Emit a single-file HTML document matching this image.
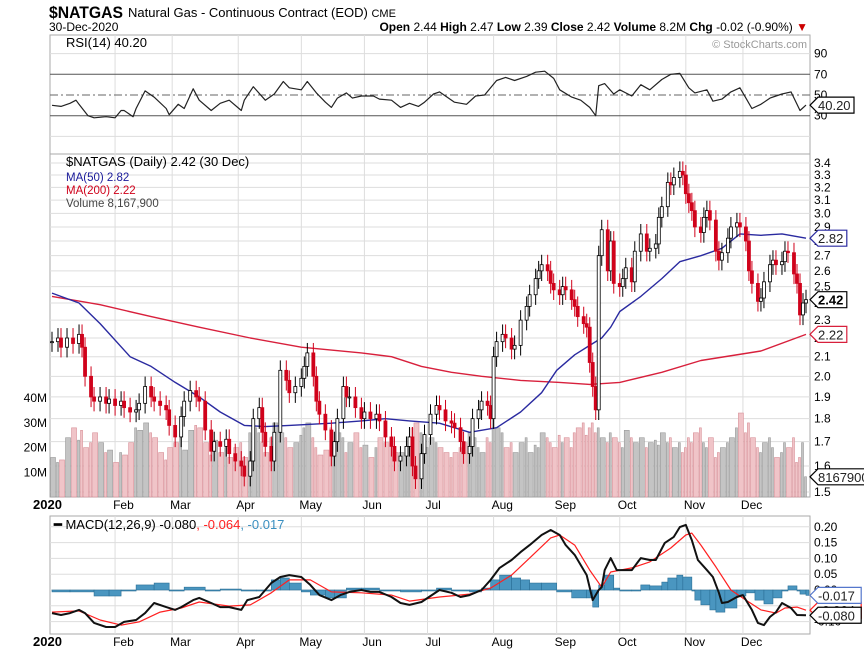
<!DOCTYPE html>
<html><head><meta charset="utf-8"><style>
html,body{margin:0;padding:0;background:#fff;}
svg{display:block;font-family:"Liberation Sans",Arial,sans-serif;}
</style></head><body>
<svg id="chart" width="864" height="654" viewBox="0 0 864 654" xmlns="http://www.w3.org/2000/svg">
<g>
<text x="49" y="18" font-size="17" font-weight="bold" textLength="74" lengthAdjust="spacingAndGlyphs">$NATGAS</text>
<text x="128" y="17" font-size="13">Natural Gas - Continuous Contract (EOD) <tspan font-size="11">CME</tspan></text>
<text x="49" y="31" font-size="12">30-Dec-2020</text>
<text x="808" y="31" font-size="12" text-anchor="end"><tspan font-weight="bold">Open</tspan> 2.44 <tspan font-weight="bold">High</tspan> 2.47 <tspan font-weight="bold">Low</tspan> 2.39 <tspan font-weight="bold">Close</tspan> 2.42 <tspan font-weight="bold">Volume</tspan> 8.2M <tspan font-weight="bold">Chg</tspan> -0.02 (-0.90%) <tspan fill="#c00">▼</tspan></text>
</g>
<g id="grid"></g>
<g id="marks"></g>
<g id="labels"></g>
</svg>
<script>
// ---------- data ----------
const candleDays=[0,2,3,5,7,9,10,11,13,14,16,18,19,21,23,24,26,28,29,31,33,34,36,38,39,41,43,44,46,48,49,51,53,54,56,58,59,61,63,64,66,67,69,70,71,73,74,76,78,79,81,83,84,85,87,88,89,91,93,94,95,97,98,99,101,103,104,106,108,109,111,113,114,116,118,119,120,121,123,124,126,128,129,131,133,134,136,137,139,140,142,143,145,146,147,148,150,151,153,154,156,158,159,161,162,163,165,166,167,169,170,171,173,174,175,177,178,179,180,181,182,183,185,186,187,189,190,191,193,194,196,198,199,201,202,203,205,206,207,209,210,211,212,213,214,216,217,218,219,221,222,223,225,226,228,229,231,232,233,235,236,237,239,240,241,243,244,245,247,248,249,250,251];
const closes=[2.18,2.2,2.15,2.2,2.17,2.22,2.15,2.0,1.9,1.88,1.9,1.87,1.89,1.86,1.88,1.85,1.83,1.84,1.87,1.95,1.9,1.88,1.86,1.84,1.77,1.72,1.81,1.88,1.93,1.9,1.88,1.75,1.66,1.7,1.68,1.71,1.65,1.62,1.6,1.56,1.62,1.8,1.85,1.74,1.68,1.62,1.74,2.03,1.98,1.92,1.95,1.99,2.05,2.12,2.0,1.88,1.82,1.75,1.64,1.7,1.8,1.95,1.9,1.9,1.85,1.8,1.83,1.8,1.82,1.79,1.72,1.68,1.62,1.64,1.68,1.72,1.6,1.55,1.65,1.73,1.82,1.86,1.84,1.79,1.78,1.76,1.7,1.65,1.68,1.8,1.84,1.88,1.86,1.8,2.1,2.18,2.22,2.2,2.14,2.16,2.3,2.38,2.45,2.55,2.6,2.64,2.6,2.52,2.48,2.45,2.5,2.48,2.42,2.38,2.32,2.28,2.26,2.07,1.95,1.84,2.7,2.88,2.6,2.8,2.52,2.5,2.55,2.62,2.53,2.73,2.85,2.73,2.75,2.78,2.97,3.05,3.24,3.22,3.28,3.33,3.3,3.15,3.08,3.02,2.9,2.86,2.97,3.02,2.95,2.73,2.67,2.72,2.82,2.9,2.93,2.9,2.8,2.6,2.52,2.41,2.43,2.53,2.64,2.67,2.64,2.66,2.73,2.72,2.58,2.52,2.33,2.4,2.42];
const volumes=[16,14,15,24,28,23,27,20,22,26,22,18,19,14,18,17,22,28,27,30,26,24,18,15,20,22,24,19,27,29,28,22,17,23,18,20,16,20,22,16,26,28,26,22,18,24,30,26,24,20,22,25,28,30,24,20,17,19,28,22,26,24,18,22,26,20,21,16,20,24,22,24,18,18,16,22,28,30,26,20,24,22,20,18,16,18,20,22,26,24,20,18,24,22,34,28,26,20,22,18,22,24,18,21,20,26,24,22,20,25,22,24,20,26,28,30,25,28,30,26,28,24,22,26,24,22,20,27,24,22,24,20,22,23,21,26,22,24,20,22,18,20,24,22,26,28,22,20,24,16,18,20,22,24,28,34,26,30,24,20,18,22,24,20,16,18,22,20,24,14,16,22,8.2];
const ma50Days=[0,9,16,26,33,41,49,56,64,71,79,93,103,111,119,129,139,148,156,163,168,174,179,183,186,189,196,203,209,216,223,229,236,243,251];
const ma50=[2.46,2.40,2.28,2.10,2.05,1.97,1.90,1.83,1.77,1.765,1.77,1.78,1.79,1.80,1.79,1.78,1.74,1.76,1.83,1.92,2.03,2.11,2.16,2.20,2.26,2.35,2.44,2.55,2.66,2.70,2.75,2.85,2.84,2.85,2.82];
const ma200Days=[0,16,33,49,66,83,103,113,123,133,143,156,169,179,189,203,216,236,251];
const ma200=[2.44,2.39,2.32,2.26,2.20,2.15,2.12,2.10,2.05,2.02,2.00,1.98,1.97,1.96,1.97,2.02,2.08,2.13,2.22];
const rsiDays=[0,3,6,8,9,12,14,18,21,23,24,27,28,31,34,38,39,42,44,47,49,53,56,59,63,64,67,71,74,77,79,83,85,88,91,93,95,98,100,103,107,109,113,116,119,122,124,127,129,134,138,141,144,148,151,154,158,161,164,167,169,173,176,179,181,182,184,187,189,193,196,199,203,206,209,212,214,218,220,223,226,229,231,233,236,239,241,243,246,248,249,251];
const rsi=[40,39,42,45,41,30,28,29,28,35,35,29,37,54,48,37,31,41,37,56,45,35,42,45,35,45,58,45,51,63,57,55,63,52,43,38,47,52,47,49,49,46,45,38,42,39,43,51,53,43,41,49,50,64,67,64,68,72,73,66,55,48,45,38,30,59,61,51,55,49,60,55,65,70,71,57,52,55,44,46,53,57,47,37,41,47,49,51,53,41,35,40.2];
const macdDays=[0,3,6,9,11,14,18,21,24,28,31,34,38,41,43,47,49,53,56,59,63,65,69,73,76,79,83,86,89,93,96,99,103,106,109,113,116,119,123,126,129,133,136,139,143,146,149,153,156,159,163,166,169,171,174,178,180,182,183,184,186,188,191,193,196,199,201,204,207,209,211,213,215,218,220,222,223,225,228,230,233,235,237,239,241,243,246,248,251];
const macd=[-0.073,-0.079,-0.073,-0.063,-0.073,-0.104,-0.117,-0.117,-0.101,-0.095,-0.073,-0.041,-0.054,-0.063,-0.054,-0.032,-0.025,-0.041,-0.054,-0.054,-0.063,-0.032,-0.022,0.022,0.041,0.047,0.041,0.016,-0.016,-0.032,-0.016,-0.006,0,-0.006,-0.006,-0.022,-0.041,-0.047,-0.038,-0.019,0,-0.009,-0.022,-0.016,0,0.032,0.07,0.095,0.12,0.142,0.174,0.19,0.174,0.142,0.111,0.047,-0.032,0,0.009,0.063,0.101,0.063,0.063,0.063,0.101,0.095,0.095,0.149,0.168,0.199,0.206,0.158,0.095,0.063,0.041,-0.009,-0.041,-0.038,-0.022,-0.016,-0.063,-0.104,-0.111,-0.085,-0.07,-0.041,-0.057,-0.079,-0.080];
const signalDays=[0,9,16,23,29,36,43,49,59,66,73,79,86,93,103,113,119,129,139,146,153,159,166,169,174,179,183,186,193,199,206,211,213,216,221,226,231,236,241,244,248,251];
const signal=[-0.070,-0.066,-0.095,-0.111,-0.101,-0.070,-0.057,-0.038,-0.051,-0.047,-0.009,0.032,0.032,-0.006,-0.009,-0.016,-0.035,-0.022,-0.013,0.006,0.047,0.101,0.165,0.174,0.142,0.063,0.009,0.057,0.070,0.089,0.133,0.174,0.180,0.142,0.073,0,-0.032,-0.063,-0.073,-0.057,-0.054,-0.064];
const histDays=[0,6,14,19,23,28,34,39,44,51,56,63,68,73,76,79,83,86,91,94,98,103,109,116,123,128,133,139,143,146,149,153,156,159,163,168,173,178,180,182,184,187,189,193,196,199,203,205,208,210,213,214,216,219,221,224,228,231,234,237,240,243,245,248,249,251];
const hist=[-0.006,-0.006,-0.019,-0.019,0,0.016,0.022,0,0.009,-0.003,0.003,-0.003,0,0.032,0.038,0.022,-0.006,-0.016,-0.025,-0.025,0.006,0.006,0,-0.006,0,0.006,0,-0.006,0.006,0.032,0.047,0.038,0.032,0.022,0.022,-0.006,-0.025,-0.025,-0.054,0.016,0.047,0.006,-0.003,0,0.016,0.013,0.025,0.038,0.047,0.041,0,-0.032,-0.047,-0.063,-0.070,-0.057,-0.019,-0.009,-0.032,-0.044,-0.025,0,0.013,0,-0.013,-0.017];
const priceTicks=[3.4,3.3,3.2,3.1,3.0,2.9,2.8,2.7,2.6,2.5,2.4,2.3,2.2,2.1,2.0,1.9,1.8,1.7,1.6,1.5];
const volTicks=[10,20,30,40];
const rsiTicks=[90,70,50,30];
const macdTicks=[0.20,0.15,0.10,0.05,0.00,-0.05,-0.10];
const monthNames=["2020","Feb","Mar","Apr","May","Jun","Jul","Aug","Sep","Oct","Nov","Dec"];
const monthDays=[0,21,40,62,83,104,125,147,168,189,211,230];

// ---------- scales ----------
const X0=52,X1=806,PL=50,PR=810;
const xOf=d=>X0+d*(X1-X0)/251;
const yPrice=p=>163+(Math.log(3.4)-Math.log(p))*402;
const yVol=v=>497-v*2.47;
const yRsi=v=>95-(v-50)*1.035;
const yMacd=v=>590-v*316;
const NS="http://www.w3.org/2000/svg";
const grid=document.getElementById('grid'),marks=document.getElementById('marks'),labels=document.getElementById('labels');
function mk(tag,attrs,parent){const e=document.createElementNS(NS,tag);for(const k in attrs)e.setAttribute(k,attrs[k]);parent.appendChild(e);return e;}
function txt(x,y,s,attrs,parent){const t=mk('text',Object.assign({x:x,y:y,'font-size':12},attrs),parent);t.textContent=s;return t;}

const panels=[[35,154,'rsi-panel'],[154,497,'price-panel'],[516,634,'macd-panel']];
panels.forEach(p=>{
  const r=mk('rect',{x:PL,y:p[0],width:PR-PL,height:p[1]-p[0],fill:'#fff',stroke:'#aaa','stroke-width':1},grid);
  
  
});
monthDays.forEach((d,i)=>{
  if(i===0)return;
  [[35,154],[154,497],[516,634]].forEach(p=>{
    const l=mk('line',{x1:xOf(d),x2:xOf(d),y1:p[0],y2:p[1],stroke:'#ddd'},grid);
    
    
  });
});
priceTicks.forEach(p=>{
  const l=mk('line',{x1:PL,x2:PR,y1:yPrice(p),y2:yPrice(p),stroke:'#ddd'},grid);
  
  
  const t=txt(814,yPrice(p)+4,p.toFixed(1),{'font-size':12},labels);
  
  
});
volTicks.forEach(v=>{
  const t=txt(47,yVol(v)+4,v+'M',{'font-size':12,'text-anchor':'end'},labels);
  
  
});
[90,10].forEach(v=>{const l=mk('line',{x1:PL,x2:PR,y1:yRsi(v),y2:yRsi(v),stroke:'#ddd'},grid);
  
  });
[70,30].forEach(v=>{const l=mk('line',{x1:PL,x2:PR,y1:yRsi(v),y2:yRsi(v),stroke:'#555'},grid);
  
  });
{const l=mk('line',{x1:PL,x2:PR,y1:yRsi(50),y2:yRsi(50),stroke:'#666','stroke-dasharray':'8,3,2,3'},grid);
  
  }
rsiTicks.forEach(v=>{const t=txt(814,yRsi(v)+4,String(v),{},labels);
  
  });
macdTicks.forEach(v=>{
  const l=mk('line',{x1:PL,x2:PR,y1:yMacd(v),y2:yMacd(v),stroke:'#ddd'},grid);
  
  
  const t=txt(814,yMacd(v)+4,v.toFixed(2),{},labels);
  
  
});
monthNames.forEach((m,i)=>{
  [509,646].forEach(y=>{
    const t=txt(i===0?33:xOf(monthDays[i])-2,y,m,{'font-size':12,'font-weight':i===0?'bold':'normal'},labels);
    if(i===0)t.setAttribute('font-size','13');
    
    
  });
});

const bw=(X1-X0)/251;
volumes.forEach((v,i)=>{
  const down=i>0&&closes[i]<closes[i-1];
  const d=candleDays[i];const dn=i<candleDays.length-1?candleDays[i+1]:d+1;
  const w=Math.max(bw*(dn-d)-1,2);
  const r=mk('rect',{x:xOf(d)-bw/2,y:yVol(v),width:w,height:497-yVol(v),fill:down?'#f0c4c8':'#c4c4c4',stroke:down?'#d89098':'#999','stroke-width':0.6},marks);
  
  
});
function line(days,vals,yf,color,width,name){
  const pts=days.map((d,i)=>xOf(d).toFixed(1)+','+yf(vals[i]).toFixed(1)).join(' ');
  const pl=mk('polyline',{points:pts,fill:'none',stroke:color,'stroke-width':width,'stroke-linejoin':'round'},marks);
  
  
}
line(ma200Days,ma200,yPrice,'#d8203c',1.4,'ma200-line');
line(ma50Days,ma50,yPrice,'#2a2aa0',1.4,'ma50-line');
closes.forEach((c,i)=>{
  const o=i>0?closes[i-1]:c;
  const up=c>=o;
  const x=xOf(candleDays[i]);
  const hi=Math.max(o,c)*1.025,lo=Math.min(o,c)*0.975;
  const col=up?'#000':'#d0021b';
  const w=mk('line',{x1:x,x2:x,y1:yPrice(hi),y2:yPrice(lo),stroke:col,'stroke-width':1},marks);
  
  
  const yt=yPrice(Math.max(o,c)),yb=yPrice(Math.min(o,c));
  const b=mk('rect',{x:x-1.5,y:yt,width:3,height:Math.max(yb-yt,1),fill:up?'#fff':'#d0021b',stroke:col,'stroke-width':0.8},marks);
  
  
});
line(rsiDays,rsi,yRsi,'#222',1.2,'rsi-line');
hist.forEach((v,i)=>{
  const d=histDays[i];const dn=i<histDays.length-1?histDays[i+1]:d+1;
  const y0=yMacd(0),y1=yMacd(v);
  const r=mk('rect',{x:xOf(d),y:Math.min(y0,y1),width:xOf(dn)-xOf(d),height:Math.max(Math.abs(y1-y0),1),fill:'#4a96c0',stroke:'#2a6f96','stroke-width':0.6},marks);
  
  
});
line(signalDays,signal,yMacd,'#ff2020',1.2,'macd-signal-line');
line(macdDays,macd,yMacd,'#111',2,'macd-line');

function tag(y,s,color,bold,name){
  const g=mk('g',{},labels);
  
  
  mk('polygon',{points:`810,${y} 818,${y-8} ${818+s.length*7.2},${y-8} ${818+s.length*7.2},${y+8} 818,${y+8}`,fill:'#fff',stroke:color,'stroke-width':1.2},g);
  txt(818,y+5,s,{'font-size':13,'font-weight':bold?'bold':'normal',fill:bold?'#000':'#222'},g);
}
tag(yPrice(2.82),'2.82','#2a2aa0',false,'ma50-value-tag');
tag(yPrice(2.22),'2.22','#d8203c',false,'ma200-value-tag');
tag(yPrice(2.42),'2.42','#000',true,'close-value-tag');
tag(yVol(8.1679),'8167900','#000',false,'volume-value-tag');
tag(yRsi(40.2),'40.20','#000',false,'rsi-value-tag');
tag(yMacd(-0.064),'-0.064','#ff2020',false,'signal-value-tag');
tag(yMacd(-0.017),'-0.017','#5577cc',false,'histogram-value-tag');
tag(yMacd(-0.080),'-0.080','#000',false,'macd-value-tag');

const lg=[
 [54,47,'RSI(14) 40.20','#000'],
 [54,166,'$NATGAS (Daily) 2.42 (30 Dec)','#000'],
 [54,181,'MA(50) 2.82','#1a1a9a'],
 [54,194,'MA(200) 2.22','#d0021b'],
 [54,207,'Volume 8,167,900','#444']
];
lg.forEach(l=>{
  const t=txt(l[0]+12,l[1],l[2],{'font-size':l[2].startsWith('Vol')||l[2].startsWith('MA')?11.5:13,fill:l[3]},labels);
  
  
});
{const t=txt(54,529,'',{'font-size':13},labels);
 t.innerHTML='<tspan font-weight="bold">━</tspan> MACD(12,26,9) -0.080<tspan fill="#ff2020">, -0.064</tspan><tspan fill="#3a8fc0">, -0.017</tspan>';
 
 }
{const t=txt(807,48,'© StockCharts.com',{'font-size':11,fill:'#999','text-anchor':'end'},labels);
 
 }
</script>
</body></html>
